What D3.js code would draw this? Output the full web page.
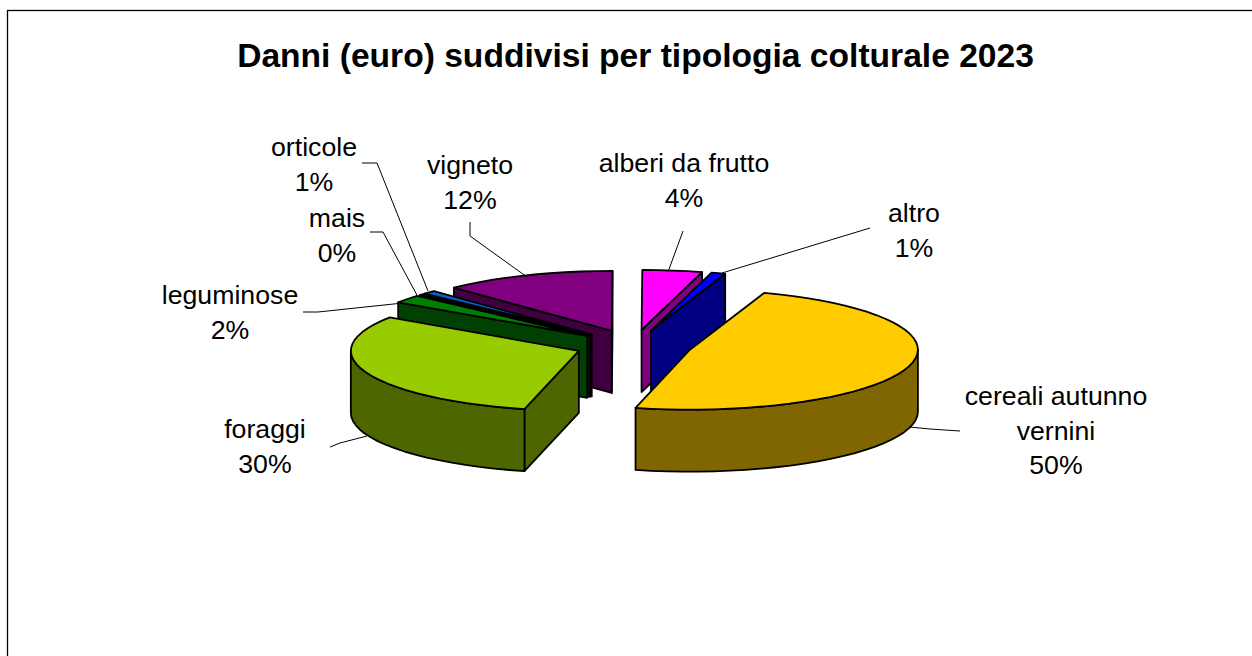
<!DOCTYPE html>
<html><head><meta charset="utf-8">
<script src="https://cdnjs.cloudflare.com/ajax/libs/d3/7.8.5/d3.min.js"></script>
<style>html,body{margin:0;padding:0;background:#fff;overflow:hidden}svg{display:block}
text{font-family:"Liberation Sans",Arial,sans-serif;fill:#000}</style></head>
<body><svg id="c" width="1252" height="656"></svg>
<script>
const chartTitle = "Danni (euro) suddivisi per tipologia colturale 2023";
const categories = ["cereali autunno vernini","foraggi","leguminose","mais","orticole","vigneto","alberi da frutto","altro"];
const values = [49.5,30,2.1,0.3,0.9,12,4.2,1.0];
const topColors = ["#FFCC00","#99CC00","#008000","#1A2A00","#0066CC","#800080","#FF00FF","#0000FF"];
const wallColors = ["#806600","#4D6600","#004000","#0D1500","#003366","#400040","#800080","#000080"];
const labelLines = [["cereali autunno","vernini"],["foraggi"],["leguminose"],["mais"],["orticole"],["vigneto"],["alberi da frutto"],["altro"]];
const labelAnchors = [[1056,396],[265,429],[230,295],[337,218],[314,147],[470,165],[684,163],[914,213]];
const leaders = [[[909,427],[930,429],[960,431]],[[367,436],[340,443],[330,447]],[[403,303],[318,312],[303,312]],[[418,297],[383,232],[370,232]],[[428,291],[377,163],[362,163]],[[527,277],[470,236],[470,222]],[[668,272],[683,231]],[[722,273],[870,228]]];
const drawOrder = [5,4,3,2,1,6,7,0];

const cx=633.6, cy=345.3, rx=228, ry=60, depth=62, explode=58.7, startDeg=19.8;
const rad=Math.PI/180;
const svg=d3.select("#c");
svg.append("rect").attr("x",7.5).attr("y",10.5).attr("width",1300).attr("height",700).attr("fill","#fff").attr("stroke","#000").attr("stroke-width",1.3);
svg.append("text").attr("x",635.5).attr("y",67).attr("text-anchor","middle").attr("font-size",33.6).attr("font-weight","bold").text(chartTitle);

const s0=startDeg*rad;
const pie=d3.pie().sort(null).startAngle(s0).endAngle(s0+2*Math.PI);
// the reference's oblique view slightly compresses the apparent angles
const view=t=>t+(-2.5+1.7*Math.cos(t-20*rad))*rad;
const arcs=pie(values);
const sx=d3.scaleLinear().domain([-1,1]).range([-rx,rx]);
const sy=d3.scaleLinear().domain([-1,1]).range([-ry,ry]);
const line=d3.line();
function poly(pts,fill){
  svg.append("path").attr("d",line(pts)+"Z").attr("fill",fill).attr("stroke","#000").attr("stroke-width",1.8).attr("stroke-linejoin","round");
}
function arcPts(ox,oy,a,b,dy){
  const n=Math.max(2,Math.ceil(Math.abs(b-a)/0.07));
  return d3.range(n+1).map(i=>{const t=a+(b-a)*i/n;return [ox+sx(Math.sin(t)),oy+sy(-Math.cos(t))+dy];});
}
drawOrder.forEach(i=>{
  const d=arcs[i];
  const a=view(d.startAngle),b=view(d.endAngle),mid=(a+b)/2;
  const ox=cx+explode*Math.sin(mid), oy=cy-explode*(ry/rx)*Math.cos(mid);
  const P=(t,dy)=>[ox+sx(Math.sin(t)),oy+sy(-Math.cos(t))+dy];
  if(Math.sin(a)<0) poly([[ox,oy],P(a,0),P(a,depth),[ox,oy+depth]],wallColors[i]);
  if(Math.sin(b)>0) poly([[ox,oy],P(b,0),P(b,depth),[ox,oy+depth]],wallColors[i]);
  const lo=Math.max(a,Math.PI/2),hi=Math.min(b,3*Math.PI/2);
  if(hi>lo) poly(arcPts(ox,oy,lo,hi,0).concat(arcPts(ox,oy,hi,lo,depth)),wallColors[i]);
  poly([[ox,oy]].concat(arcPts(ox,oy,a,b,0)),topColors[i]);
});
categories.forEach((c,i)=>{
  svg.append("path").attr("d",line(leaders[i])).attr("fill","none").attr("stroke","#000").attr("stroke-width",1);
  const [x,y]=labelAnchors[i];
  const rows=labelLines[i].concat([Math.round(values[i])+"%"]);
  rows.forEach((r,k)=>svg.append("text").attr("x",x).attr("y",y+k*34.5+9).attr("text-anchor","middle").attr("font-size",26.7).text(r));
});
</script></body></html>
